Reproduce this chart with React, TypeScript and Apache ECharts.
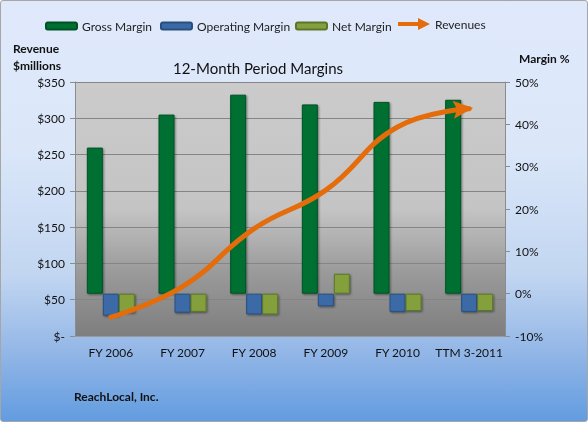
import React, { useEffect, useRef } from "react";
import * as echarts from "echarts";

const categories = ["FY 2006", "FY 2007", "FY 2008", "FY 2009", "FY 2010", "TTM 3-2011"];
const grossMargin = [34.5, 42.3, 47.0, 44.7, 45.3, 45.8];
const operatingMargin = [-5.2, -4.5, -4.9, -3.0, -4.3, -4.3];
const netMargin = [-4.5, -4.3, -4.9, 4.7, -4.1, -4.1];
const revenues = [26, 68, 148, 201, 288, 313];

const FONT = "Lato";

export default function App() {
  const ref = useRef<HTMLDivElement>(null);
  useEffect(() => {
    if (!ref.current) return;
    const chart = echarts.init(ref.current, null, { renderer: "svg" });
    const barShadow = {
      shadowBlur: 2,
      shadowOffsetX: 1,
      shadowOffsetY: 1,
      shadowColor: "rgba(0,0,0,0.45)",
    };
    const arrowPath = "path://M0,4 L20,4 L20,0 L32,6 L20,12 L20,8 L0,8 Z";
    const headPath = "path://M0,0 L20,9 L0,18 L4,9 Z";
    const legendText = { fontFamily: FONT, fontSize: 12, color: "#222" };
    const revData: any[] = revenues.map((v, i) =>
      i === revenues.length - 1
        ? { value: v, symbol: headPath, symbolSize: [20, 18], symbolRotate: 5, symbolOffset: [-6, 0] }
        : v
    );
    chart.setOption({
      animation: false,
      textStyle: { fontFamily: FONT },
      title: {
        text: "12-Month Period Margins",
        left: 252,
        textAlign: "center",
        top: 54,
        textStyle: { fontFamily: FONT, fontSize: 15, fontWeight: "normal", color: "#111" },
      },
      legend: [
        { data: ["Gross Margin"], left: 39, top: 14, itemWidth: 31, itemHeight: 7, textStyle: legendText },
        { data: ["Operating Margin"], left: 154, top: 14, itemWidth: 31, itemHeight: 7, textStyle: legendText },
        { data: ["Net Margin"], left: 289, top: 14, itemWidth: 31, itemHeight: 7, textStyle: legendText },
        {
          data: [{ name: "Revenues", icon: arrowPath }],
          left: 392,
          top: 12,
          itemWidth: 32,
          itemHeight: 12,
          textStyle: legendText,
        },
      ],
      grid: {
        left: 74,
        right: 82,
        top: 81,
        bottom: 85,
        show: true,
        borderWidth: 0,
        backgroundColor: {
          type: "linear",
          x: 0,
          y: 0,
          x2: 0,
          y2: 1,
          colorStops: [
            { offset: 0, color: "#cbcbcb" },
            { offset: 0.5, color: "#c4c4c4" },
            { offset: 0.75, color: "#9a9a9a" },
            { offset: 1, color: "#7e7e7e" },
          ],
        },
      },
      xAxis: {
        type: "category",
        data: categories,
        axisLine: { onZero: false, lineStyle: { color: "#9a9a9a" } },
        axisTick: { show: false },
        axisLabel: { fontFamily: FONT, fontSize: 12, color: "#111", margin: 10, interval: 0 },
      },
      yAxis: [
        {
          type: "value",
          min: 0,
          max: 350,
          interval: 50,
          position: "left",
          name: "Revenue\n$millions",
          nameLocation: "end",
          nameGap: 8,
          nameTextStyle: { fontFamily: FONT, fontSize: 12, fontWeight: "bold", color: "#111", align: "left", padding: [0, 0, 0, -62], lineHeight: 17 },
          axisLine: { show: true, lineStyle: { color: "#8c8c8c" } },
          axisTick: { show: true, length: 5, lineStyle: { color: "#8c8c8c" } },
          splitLine: { show: true, lineStyle: { color: "#858585", width: 1 } },
          axisLabel: {
            fontFamily: FONT,
            fontSize: 12,
            color: "#111",
            margin: 10,
            formatter: (v: number) => (v === 0 ? "$-" : "$" + v),
          },
        },
        {
          type: "value",
          min: -10,
          max: 50,
          interval: 10,
          position: "right",
          name: "Margin %",
          nameLocation: "end",
          nameGap: 18,
          nameTextStyle: { fontFamily: FONT, fontSize: 12, fontWeight: "bold", color: "#111", align: "left", padding: [0, 0, 0, 14] },
          axisLine: { show: true, lineStyle: { color: "#8c8c8c" } },
          axisTick: { show: true, length: 5, lineStyle: { color: "#8c8c8c" } },
          splitLine: { show: false },
          axisLabel: {
            fontFamily: FONT,
            fontSize: 12,
            color: "#111",
            margin: 10,
            formatter: (v: number) => v + "%",
          },
        },
      ],
      series: [
        {
          name: "Gross Margin",
          type: "bar",
          yAxisIndex: 1,
          data: grossMargin,
          barWidth: 16,
          barGap: "0%",
          itemStyle: { color: "#006f32", borderColor: "#005224", borderWidth: 1, ...barShadow },
        },
        {
          name: "Operating Margin",
          type: "bar",
          yAxisIndex: 1,
          data: operatingMargin,
          barWidth: 16,
          barGap: "0%",
          itemStyle: { color: "#3a6aa6", borderColor: "#2a4f7e", borderWidth: 1, ...barShadow },
        },
        {
          name: "Net Margin",
          type: "bar",
          yAxisIndex: 1,
          data: netMargin,
          barWidth: 16,
          barGap: "0%",
          itemStyle: { color: "#84a03e", borderColor: "#5c7628", borderWidth: 1, ...barShadow },
        },
        {
          name: "Revenues",
          type: "line",
          yAxisIndex: 0,
          data: revData,
          smooth: 0.45,
          symbol: "none",
          showSymbol: true,
          lineStyle: { color: "#e46c0a", width: 5, cap: "round" },
          itemStyle: { color: "#e46c0a" },
          z: 5,
        },
      ],
      graphic: [
        {
          type: "text",
          left: 73,
          top: 389,
          style: { text: "ReachLocal, Inc.", fontFamily: FONT, fontSize: 12, fontWeight: "bold", fill: "#111" },
        },
      ],
    });
    return () => chart.dispose();
  }, []);
  return (
    <div
      style={{
        position: "fixed",
        left: 0,
        top: 0,
        width: 588,
        height: 422,
        boxSizing: "border-box",
        border: "1px solid #a6a6a6",
        borderRadius: 3,
        background: "linear-gradient(to bottom, #dfe9fb 0%, #dbe7f9 35%, #c2d6f1 65%, #8fb4e6 85%, #629ce0 100%)",
      }}
    >
      <div ref={ref} style={{ width: 586, height: 420 }} />
    </div>
  );
}
